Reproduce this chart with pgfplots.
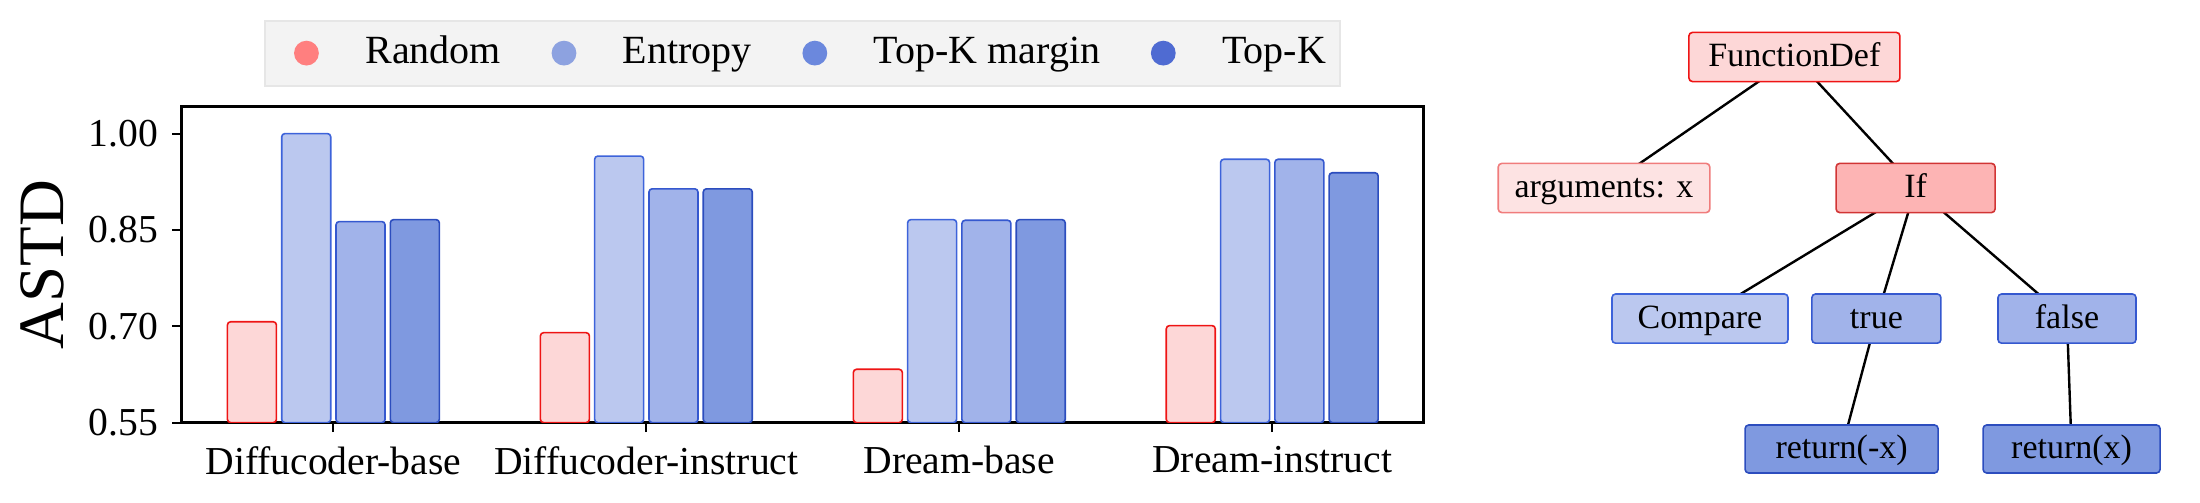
\documentclass[border=0pt]{standalone}
\usepackage{fontspec}
\setmainfont{Liberation Serif}
\usepackage{pgfplots}
\pgfplotsset{compat=1.18}

\definecolor{rndFill}{HTML}{FDD7D7}
\definecolor{rndEdge}{HTML}{EE1414}
\definecolor{entFill}{HTML}{BBC8EF}
\definecolor{entEdge}{HTML}{3D63DA}
\definecolor{marFill}{HTML}{A1B3EA}
\definecolor{marEdge}{HTML}{3558CF}
\definecolor{topFill}{HTML}{7F99E0}
\definecolor{topEdge}{HTML}{2C4DBE}
\definecolor{legRnd}{HTML}{FF7F7F}
\definecolor{legEnt}{HTML}{8DA2E0}
\definecolor{legMar}{HTML}{6B88DD}
\definecolor{legTop}{HTML}{4F6BD2}
\definecolor{legFill}{HTML}{F3F3F3}
\definecolor{legEdge}{HTML}{E6E6E6}
\definecolor{argFill}{HTML}{FDE3E3}
\definecolor{argEdge}{HTML}{F07C7C}
\definecolor{ifFill}{HTML}{FDB4B4}
\definecolor{ifEdge}{HTML}{D13535}

\pgfplotstableread{
x  rnd   ent   mar   top
0  0.707 1.000 0.863 0.866
1  0.690 0.965 0.914 0.914
2  0.633 0.866 0.865 0.866
3  0.701 0.960 0.960 0.939
}\astd

\begin{document}
\begin{tikzpicture}
\useasboundingbox (0,0) rectangle (550pt,125.75pt);
\begin{axis}[
  at={(45.4pt,20.1pt)}, anchor=south west,
  scale only axis, width=310.6pt, height=79pt,
  xmin=-0.485, xmax=3.485, ymin=0.55, ymax=1.042,
  ytick={0.55,0.70,0.85,1.00},
  yticklabels={0.55,0.70,0.85,1.00},
  xtick={0,1,2,3},
  xticklabels={Diffucoder-base,Diffucoder-instruct,Dream-base,Dream-instruct},
  /pgf/number format/assume math mode=true,
  tick align=outside, major tick length=2.4pt,
  tick style={black, line width=0.5pt},
  xtick pos=bottom, ytick pos=left,
  axis line style={line width=0.75pt},
  ticklabel style={font=\fontsize{9.9}{11}\selectfont},
  ylabel={ASTD},
  ylabel style={at={(axis description cs:-0.1117,0.5)}, anchor=center, font=\fontsize{16.2}{18}\selectfont},
  ybar, bar width=12.25pt,
  every axis plot/.append style={line width=0.4pt},
  legend columns=4,
  legend style={at={(0.5,1)}, anchor=south, yshift=5pt,
    draw=legEdge, fill=legFill, line width=0.5pt,
    inner xsep=1.5pt, inner ysep=1.9pt,
    font=\fontsize{10}{12}\selectfont,
    /tikz/every odd column/.style={column sep=9.65pt},
    /tikz/every even column/.style={column sep=10.65pt}},
]
\addplot[forget plot, draw=rndEdge, fill=rndFill, bar shift=-20.36pt, rounded corners=0.8pt] table[x=x,y=rnd]{\astd};
\addplot[forget plot, draw=entEdge, fill=entFill, bar shift=-6.79pt, rounded corners=0.8pt] table[x=x,y=ent]{\astd};
\addplot[forget plot, draw=marEdge, fill=marFill, bar shift=6.79pt, rounded corners=0.8pt] table[x=x,y=mar]{\astd};
\addplot[forget plot, draw=topEdge, fill=topFill, bar shift=20.36pt, rounded corners=0.8pt] table[x=x,y=top]{\astd};
\addlegendimage{legend image code/.code={\path[draw=none,fill=none] (-8.75pt,-3.1pt) rectangle (3.1pt,3.1pt); \path[draw=none,fill=legRnd] (0,0) circle (3.1pt);}}
\addlegendentry{Random}
\addlegendimage{legend image code/.code={\path[draw=none,fill=none] (-3.1pt,-3.1pt) rectangle (3.1pt,3.1pt); \path[draw=none,fill=legEnt] (0,0) circle (3.1pt);}}
\addlegendentry{Entropy}
\addlegendimage{legend image code/.code={\path[draw=none,fill=none] (-3.1pt,-3.1pt) rectangle (3.1pt,3.1pt); \path[draw=none,fill=legMar] (0,0) circle (3.1pt);}}
\addlegendentry{Top-K margin}
\addlegendimage{legend image code/.code={\path[draw=none,fill=none] (-3.1pt,-3.1pt) rectangle (3.1pt,3.1pt); \path[draw=none,fill=legTop] (0,0) circle (3.1pt);}}
\addlegendentry{Top-K}
\end{axis}

% AST diagram
\begin{scope}[line width=0.6pt]
\draw (448.6pt,111.5pt) -- (401pt,78.75pt);
\draw (448.6pt,111.5pt) -- (478.9pt,78.75pt);
\draw (478.9pt,78.75pt) -- (425pt,46.1pt);
\draw (478.9pt,78.75pt) -- (469.1pt,46.1pt);
\draw (478.9pt,78.75pt) -- (516.75pt,46.1pt);
\draw (469.1pt,46.1pt) -- (460.4pt,13.5pt);
\draw (516.75pt,46.1pt) -- (517.9pt,13.5pt);
\end{scope}
\tikzset{ast/.style={rounded corners=0.9pt, line width=0.4pt, inner sep=0pt,
  font=\fontsize{8.5}{10}\selectfont, text height=0.7em, text depth=0.2em,
  minimum height=12.3pt}}
\node[ast, draw=rndEdge, fill=rndFill, minimum width=52.75pt] at (448.6pt,111.5pt) {FunctionDef};
\node[ast, draw=argEdge, fill=argFill, minimum width=52.9pt] at (401pt,78.75pt) {arguments: x};
\node[ast, draw=ifEdge, fill=ifFill, minimum width=39.75pt] at (478.9pt,78.75pt) {If};
\node[ast, draw=entEdge, fill=entFill, minimum width=44pt] at (425pt,46.1pt) {Compare};
\node[ast, draw=marEdge, fill=marFill, minimum width=32.25pt] at (469.1pt,46.1pt) {true};
\node[ast, draw=marEdge, fill=marFill, minimum width=34.5pt] at (516.75pt,46.1pt) {false};
\node[ast, draw=topEdge, fill=topFill, minimum width=48.25pt, minimum height=12pt] at (460.4pt,13.5pt) {return(-x)};
\node[ast, draw=topEdge, fill=topFill, minimum width=44.25pt, minimum height=12pt] at (517.9pt,13.5pt) {return(x)};
\end{tikzpicture}
\end{document}
